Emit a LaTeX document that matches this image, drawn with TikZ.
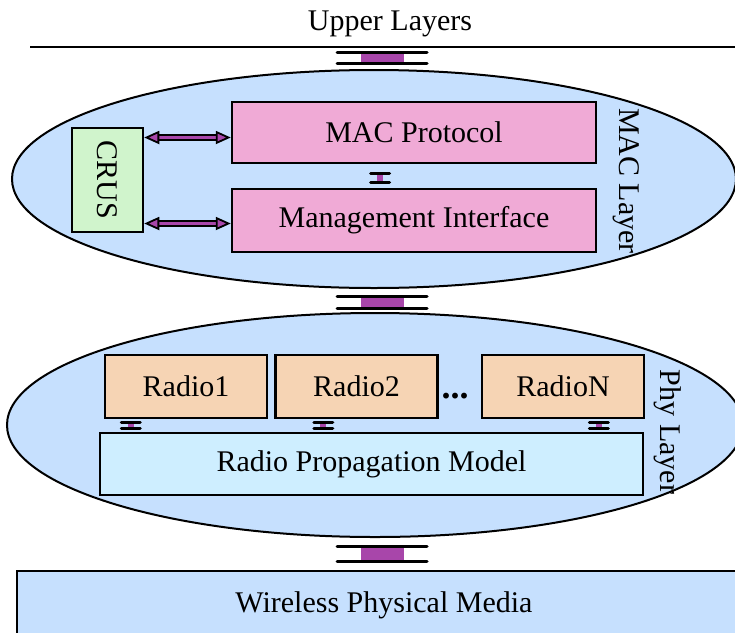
\documentclass[tikz,border=0pt]{standalone}
\usepackage{fontspec}
\setmainfont{Liberation Serif}
\usetikzlibrary{arrows.meta,shapes.geometric,positioning,calc}
\definecolor{layerblue}{RGB}{198,224,254}
\definecolor{macpink}{RGB}{240,170,214}
\definecolor{crusgreen}{RGB}{208,244,204}
\definecolor{radiopeach}{RGB}{246,212,180}
\definecolor{propcyan}{RGB}{206,238,255}
\definecolor{linkpurple}{RGB}{168,70,170}

\tikzset{
  layer/.style={ellipse, draw, line width=2pt, fill=layerblue, inner sep=0pt},
  box/.style={rectangle, draw, line width=2.5pt, inner sep=0pt},
  spool/.style={preaction={draw=linkpurple, line width=43pt, -}, draw=linkpurple, line width=0.1pt,
    {Bar[width=90pt,line width=3pt,color=black,round]}-{Bar[width=90pt,line width=3pt,color=black,round]}},
  minispool/.style={preaction={draw=linkpurple, line width=6pt, -}, draw=linkpurple, line width=0.1pt,
    {Bar[width=19pt,line width=3pt,color=black,round]}-{Bar[width=19pt,line width=3pt,color=black,round]}},
  dblarrow/.style={double=linkpurple, double distance=2.5pt, line width=1.8pt,
    {Triangle[length=15pt,width=13pt,fill=linkpurple]}-{Triangle[length=15pt,width=13pt,fill=linkpurple]}}
}

\begin{document}
\begin{tikzpicture}[x=1pt,y=1pt, every node/.style={font=\fontsize{30}{36}\selectfont}]
    \clip (0,0) rectangle (735,-632);

    % upper layers
    \node[anchor=base] (upper) at (390,-30) {Upper Layers};
    \draw[line width=2pt] (30,-47) coordinate (ul) -- (735,-47) coordinate (ur);
    \coordinate (utap) at (382,-47);

    % MAC layer
    \node[layer, minimum width=724pt, minimum height=218pt] (macl) at (374,-179) {};
    \node[box, fill=macpink, minimum width=364pt, minimum height=61pt] (mac) at (414,-132.5) {MAC Protocol};
    \node[box, fill=macpink, minimum width=364pt, minimum height=63pt] (mgmt) at (414,-220.5) {Management Interface};
    \node[box, fill=crusgreen, rotate=-90, minimum width=104pt, minimum height=71pt] (crus) at (107.5,-180) {CRUS};
    \node[rotate=-90] (maclbl) at (626,-181) {MAC Layer};

    \coordinate (ca) at ([yshift=-5pt]mac.west);
    \coordinate (cb) at ([yshift=-3pt]mgmt.west);
    \draw[dblarrow] (ca -| crus.north) -- (ca);
    \draw[dblarrow] (cb -| crus.north) -- (cb);
    \coordinate (mtap) at (380,0);
    \draw[minispool, shorten <=8pt, shorten >=4pt] (mac.south -| mtap) -- (mgmt.north -| mtap);

    % Phy layer
    \node[layer, minimum width=736pt, minimum height=224pt] (phyl) at (375,-425) {};
    \node[box, fill=radiopeach, minimum width=162pt, minimum height=63pt] (radioA) at (186,-386.5) {Radio1};
    \node[box, fill=radiopeach, minimum width=162pt, minimum height=63pt, right=6pt of radioA] (radioB) {Radio2};
    \node[box, fill=radiopeach, minimum width=162pt, minimum height=63pt, right=42pt of radioB] (radioN) {RadioN};
    \node[anchor=base, font=\fontsize{36}{40}\selectfont] (dots) at (455,-398) {\textbf{...}};
    \node[box, fill=propcyan, minimum width=543pt, minimum height=62pt] (prop) at (371.5,-464) {Radio Propagation Model};
    \node[rotate=-90] (phylbl) at (668,-432) {Phy Layer};

    \path ([xshift=27pt]radioA.south west) coordinate (tapA)
          ([xshift=49pt]radioB.south west) coordinate (tapB)
          ([xshift=118pt]radioN.south west) coordinate (tapN);
    \foreach \t in {A,B,N}
        \draw[minispool, shorten <=2pt, shorten >=2pt] (tap\t) -- (tap\t |- prop.north);

    % media
    \node[box, fill=layerblue, minimum width=734pt, minimum height=68pt] (wire) at (384,-605) {Wireless Physical Media};

    % links between layers
    \draw[spool, shorten <=4pt, shorten >=4pt] (utap) -- (utap |- macl.north);
    \draw[spool, shorten <=6pt, shorten >=2pt] (macl.south -| utap) -- (phyl.north -| utap);
    \draw[spool, shorten <=7pt, shorten >=7pt] (phyl.south -| utap) -- (wire.north -| utap);
\end{tikzpicture}
\end{document}
